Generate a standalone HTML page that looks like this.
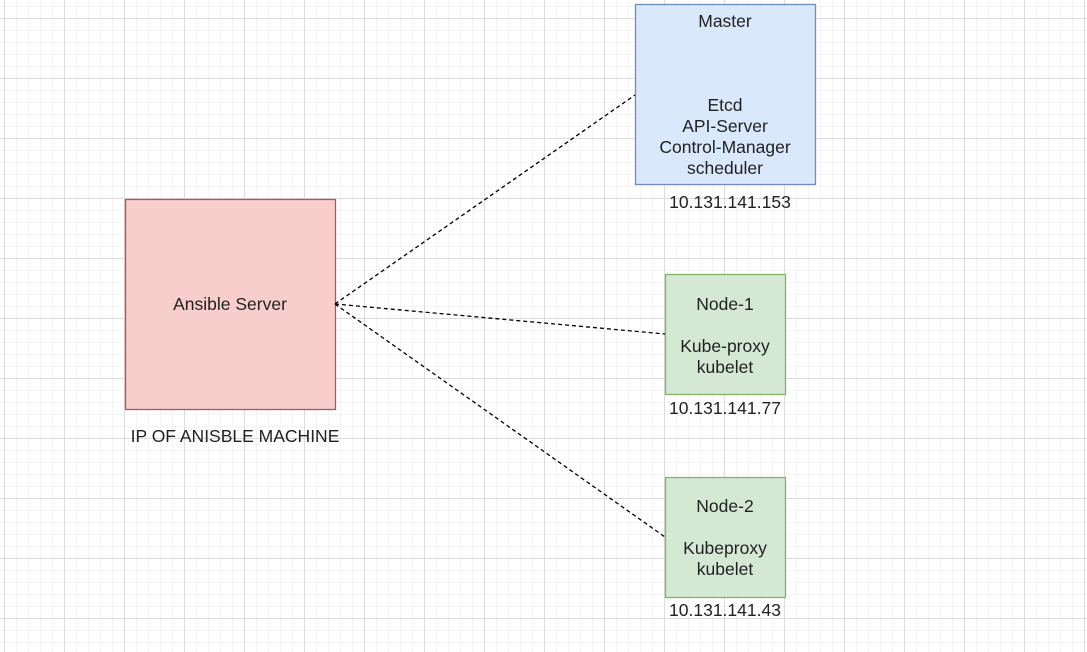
<!DOCTYPE html>
<html><head><style>
body{margin:0;width:1087px;height:652px;overflow:hidden;background:#fff;
background-image:
linear-gradient(#dcdcdc 1px,transparent 1px),
linear-gradient(90deg,#dcdcdc 1px,transparent 1px),
linear-gradient(#f4f4f4 1px,transparent 1px),
linear-gradient(90deg,#f4f4f4 1px,transparent 1px);
background-size:60px 60px,60px 60px,12px 12px,12px 12px;
background-position:0 18px,4px 0,0 6px,4px 0;
font-family:"Liberation Sans",Helvetica,sans-serif;color:#222}
</style></head><body>
<svg width="1087" height="652" style="position:absolute;left:0;top:0" font-family="Liberation Sans, sans-serif" font-size="17.5" fill="#222">
<rect x="635.5" y="4.5" width="180" height="180" fill="#dae8fc" stroke="#6c8ebf" stroke-width="1.3"/>
<rect x="665.5" y="274.5" width="120" height="120" fill="#d5e8d4" stroke="#82b366" stroke-width="1.3"/>
<rect x="665.5" y="477.5" width="120" height="120" fill="#d5e8d4" stroke="#82b366" stroke-width="1.3"/>
<rect x="125.5" y="199.5" width="210" height="210" fill="#f8cecc" stroke="#b85450" stroke-width="1.3"/>
<g stroke="#000" stroke-width="1.3" stroke-dasharray="4,3" fill="none">
<line x1="335" y1="304" x2="635" y2="95"/>
<line x1="335" y1="304" x2="665" y2="334"/>
<line x1="335" y1="304" x2="665" y2="537"/>
</g>
<g text-anchor="middle">
<text x="725" y="27">Master</text>
<text x="725" y="111">Etcd</text>
<text x="725" y="132">API-Server</text>
<text x="725" y="153">Control-Manager</text>
<text x="725" y="174">scheduler</text>
<text x="730" y="208">10.131.141.153</text>
<text x="725" y="310">Node-1</text>
<text x="725" y="352">Kube-proxy</text>
<text x="725" y="373">kubelet</text>
<text x="725" y="414">10.131.141.77</text>
<text x="725" y="512">Node-2</text>
<text x="725" y="554">Kubeproxy</text>
<text x="725" y="575">kubelet</text>
<text x="725" y="616">10.131.141.43</text>
<text x="230" y="310">Ansible Server</text>
<text x="235" y="442">IP OF ANISBLE MACHINE</text>
</g>
</svg>
</body></html>
